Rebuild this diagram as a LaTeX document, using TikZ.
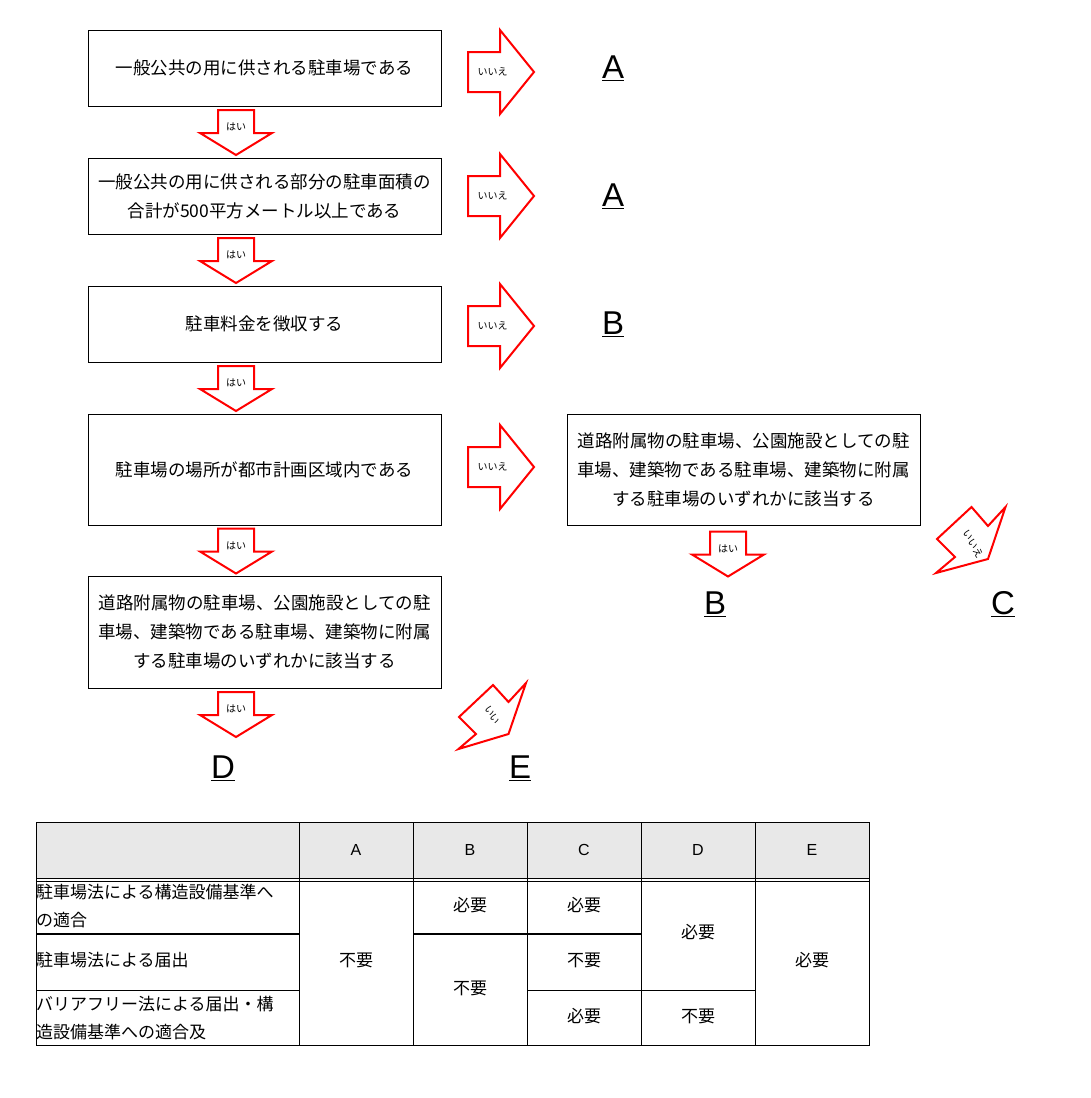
\documentclass[tikz,border=0pt]{standalone}
\usepackage{fontspec}
\setmainfont{Noto Sans CJK JP}
\newfontfamily\latinfont{Liberation Sans}
\usetikzlibrary{positioning}
\definecolor{headgray}{HTML}{E8E8E8}
\tikzset{
  qbox/.style={draw,line width=0.8pt,minimum width=353pt,align=center,inner sep=0pt,
               font=\fontsize{17.5}{29}\selectfont},
  result/.style={font=\latinfont\fontsize{33}{33}\selectfont,inner sep=0pt},
  cell/.style={font=\fontsize{17}{28}\selectfont,inner sep=0pt,align=center},
  arrowline/.style={red,line width=2pt,fill=white,line join=miter},
  arrowtext/.style={font=\fontsize{10}{10}\selectfont,inner sep=0pt},
}
% block arrow: centre x, y, angle, length, head half width, shaft half width, head length, label
\newcommand{\blockarrow}[8]{%
  \begin{scope}[shift={(#1,#2)},rotate=#3]
    \draw[arrowline]
      (-#4/2,-#6) -- (#4/2-#7,-#6) -- (#4/2-#7,-#5) -- (#4/2,0) -- (#4/2-#7,#5)
      -- (#4/2-#7,#6) -- (-#4/2,#6) -- cycle;
    \node[arrowtext] at (-#7/4,0) {#8};
  \end{scope}}
\begin{document}
\begin{tikzpicture}[x=1pt,y=-1pt]
\useasboundingbox (0,0) rectangle (1091,1098);

% questions
\node[qbox,minimum height=76pt] (q1) at (264.5,68) {一般公共の用に供される駐車場である};
\node[qbox,minimum height=76pt] (q2) at (264.5,196) {一般公共の用に供される部分の駐車面積の\\合計が500平方メートル以上である};
\node[qbox,minimum height=76pt] (q3) at (264.5,324) {駐車料金を徴収する};
\node[qbox,minimum height=111pt] (q4) at (264.5,469.5) {駐車場の場所が都市計画区域内である};
\node[qbox,minimum height=112pt] (q5) at (264.5,632) {道路附属物の駐車場、公園施設としての駐\\車場、建築物である駐車場、建築物に附属\\する駐車場のいずれかに該当する};
\node[qbox,minimum height=111pt] (q6) at (743.5,469.5) {道路附属物の駐車場、公園施設としての駐\\車場、建築物である駐車場、建築物に附属\\する駐車場のいずれかに該当する};

% results
\node[result] (a1) at (613,68) {\underline{A}};
\node[result] (a2) at (613,196) {\underline{A}};
\node[result] (b1) at (613,324) {\underline{B}};
\node[result] (b2) at (715,604) {\underline{B}};
\node[result] (c1) at (1003,604) {\underline{C}};
\node[result] (d1) at (223,768) {\underline{D}};
\node[result] (e1) at (520,768) {\underline{E}};

% yes arrows
\foreach \y in {132.5,260.5,388.5,551,714.5}
  \blockarrow{236}{\y}{-90}{45}{36}{18}{22}{はい};
\blockarrow{728}{554}{-90}{45}{36}{18}{22}{はい};
% no arrows
\foreach \y in {72,196,326,467}
  \blockarrow{501}{\y}{0}{66}{42}{20}{34}{いいえ};
% tilted no arrows
\draw[arrowline] (458.5,749) -- (476,734) -- (459,717) -- (493,685) -- (508.5,702)
  -- (526,683) -- (508.5,734) -- cycle;
\node[arrowtext,rotate=-60] (n5) at (492,715) {いい};
\draw[arrowline] (936,573) -- (955,557) -- (937,539) -- (971.5,507) -- (988,526)
  -- (1005.5,507) -- (988,559) -- cycle;
\node[arrowtext,rotate=-60] (n6) at (973,544) {いいえ};

% table
\fill[headgray] (36,822) rectangle (869,878);
\draw[line width=0.8pt] (36,822) rectangle (869,1045);
\draw[line width=0.8pt] (36,878) -- (869,878) (36,881) -- (869,881);
\foreach \x in {299,413,527,641,755}
  \draw[line width=0.8pt] (\x,822) -- (\x,1045);
\draw[line width=1.6pt] (36,934) -- (299,934) (413,934) -- (641,934);
\draw[line width=0.8pt] (36,990) -- (299,990) (527,990) -- (755,990);
\foreach \c/\x in {A/356,B/470,C/584,D/698,E/812}
  \node[cell,font=\latinfont\fontsize{16}{16}\selectfont] (h\c) at (\x,850) {\c};
\node[cell,align=left,anchor=west] (r1) at (36,906) {駐車場法による構造設備基準へ\\の適合};
\node[cell,anchor=west] (r2) at (36,960) {駐車場法による届出};
\node[cell,align=left,anchor=west] (r3) at (36,1018) {バリアフリー法による届出・構\\造設備基準への適合及};
\node[cell] (ta) at (356,960) {不要};
\node[cell] (tb1) at (470,905) {必要};
\node[cell] (tb2) at (470,988) {不要};
\node[cell] (tc1) at (584,905) {必要};
\node[cell] (tc2) at (584,960) {不要};
\node[cell] (tc3) at (584,1016) {必要};
\node[cell] (td1) at (698,932) {必要};
\node[cell] (td2) at (698,1016) {不要};
\node[cell] (te) at (812,960) {必要};
\end{tikzpicture}
\end{document}
